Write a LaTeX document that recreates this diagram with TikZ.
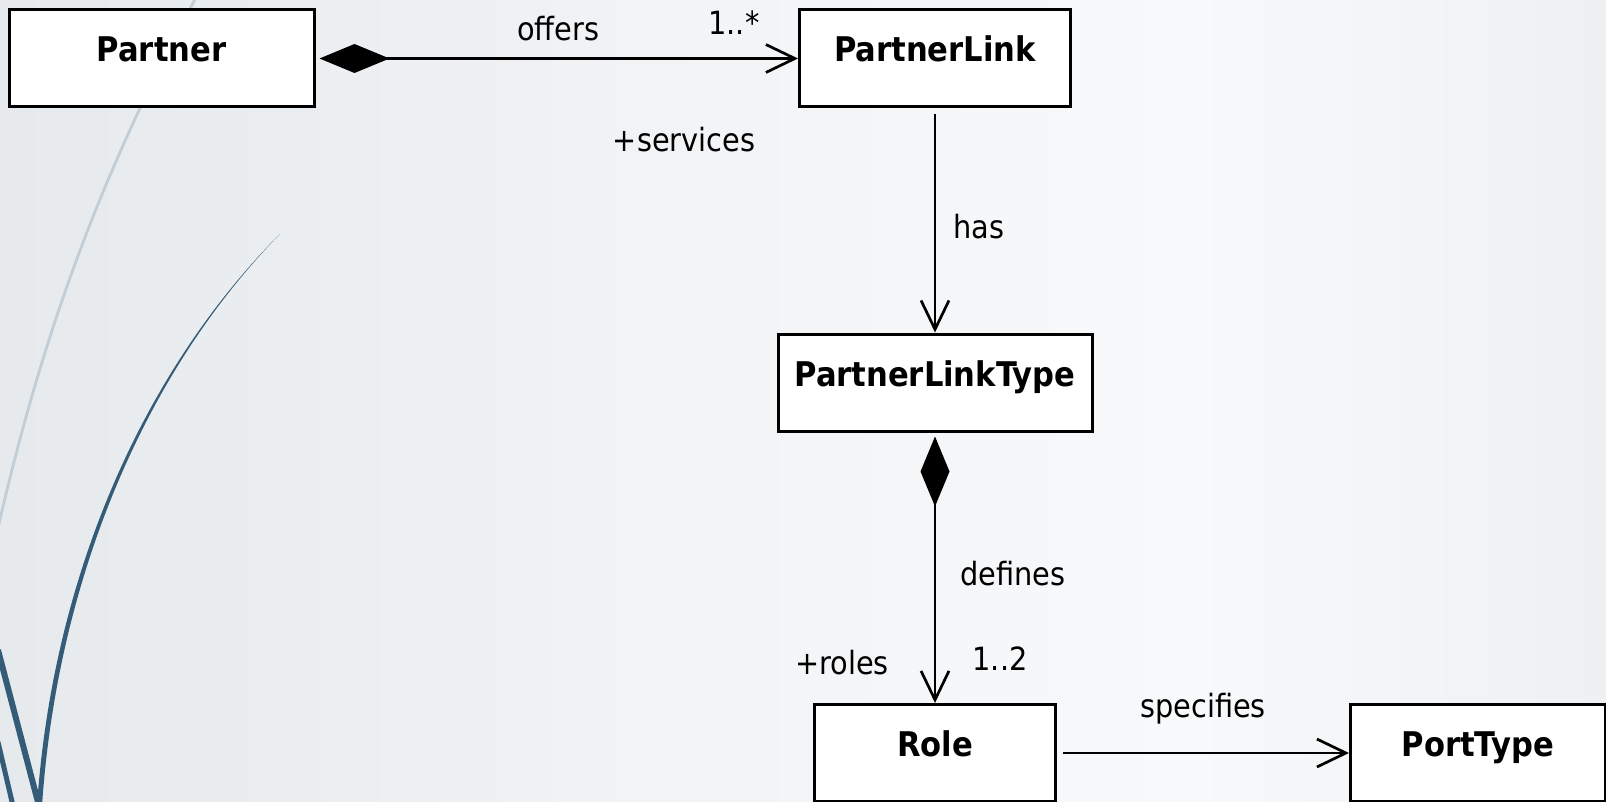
\documentclass[tikz,border=0pt]{standalone}
\usepackage{fontspec}
\newfontfamily\umlfont{DejaVu Sans Condensed}
\usetikzlibrary{arrows.meta}

\definecolor{bgA}{HTML}{E6EAED}
\definecolor{bgB}{HTML}{F1F3F5}
\definecolor{bgC}{HTML}{F8F9FA}
\definecolor{bgD}{HTML}{EEF0F2}
\definecolor{swoosh}{HTML}{345C78}
\definecolor{swooshlight}{HTML}{C2CDD5}

% background: 25bp = left edge, 75bp = right edge
\pgfdeclarehorizontalshading{slidebg}{100bp}{%
  color(0bp)=(bgA); color(25bp)=(bgA); color(45bp)=(bgB);
  color(62bp)=(bgC); color(75bp)=(bgD); color(100bp)=(bgD)}

\tikzset{
  classbox/.style={draw=black, fill=white, line width=1.5pt, inner sep=0pt,
    minimum height=48.5pt, text height=26pt, text depth=22.5pt,
    font=\umlfont\bfseries\fontsize{17}{20}\selectfont},
  lbl/.style={inner sep=0pt, anchor=base, font=\umlfont\fontsize{16}{19}\selectfont},
  assoc/.style={draw=black, line width=1.35pt},
  openhead/.style={-{Straight Barb[length=14.5pt,width=14pt,line width=1.35pt]}},
  comphead/.style={{Diamond[length=35pt,width=14.5pt]}-{Straight Barb[length=14.5pt,width=14pt,line width=1.35pt]}}
}

\begin{document}
\begin{tikzpicture}[x=0.5pt,y=-0.5pt]
  \useasboundingbox (0,0) rectangle (1606,802);
  \shade[shading=slidebg] (0,0) rectangle (1606,802);

  % decorative swooshes on the left
  \begin{scope}
    \clip (0,0) rectangle (1606,802);
    % faint outer arc
    \draw[swooshlight, line width=1.4pt]
      (199,-8) .. controls (100,174) and (42,336) .. (-2,528);
    % tapered dark arc
    \fill[swoosh]
      (280,234) .. controls (140,374) and (52,582) .. (37,806)
      -- (42,806) .. controls (57,582) and (143,374) .. (280,234) -- cycle;
    % two strokes meeting the arc at the bottom
    \draw[swoosh, line width=3pt] (-2,650) -- (39,806);
    \draw[swoosh, line width=2.5pt] (-2,742) -- (13,806);
  \end{scope}

  % classes
  \node[classbox, minimum width=152.5pt] (partner) at (161.5,58.5) {Partner};
  \node[classbox, minimum width=135.5pt] (plink)   at (935,58.5)   {PartnerLink};
  \node[classbox, minimum width=157pt]   (pltype)  at (935,382.5)  {PartnerLinkType};
  \node[classbox, minimum width=120.5pt] (role)    at (935,753)    {Role};
  \node[classbox, minimum width=127.5pt] (port)    at (1478,753)   {PortType};

  % associations
  \draw[assoc, comphead, shorten <=2pt] (partner) -- (plink);
  \draw[assoc, openhead, shorten <=3pt] (plink) -- (pltype);
  \draw[assoc, comphead, shorten <=2pt] (pltype.south) -- (pltype.south |- role.north);
  \draw[assoc, openhead, shorten <=3pt] (role) -- (port);

  % association labels and multiplicities
  \node[lbl] (offers)   at (558,41)   {offers};
  \node[lbl] (mult1)    at (734,35)   {1..*};
  \node[lbl] (services) at (684,152)  {+services};
  \node[lbl] (has)      at (979,239)  {has};
  \node[lbl] (defines)  at (1013,585) {defines};
  \node[lbl] (roles)    at (842,674)  {+roles};
  \node[lbl] (mult2)    at (1000,670) {1..2};
  \node[lbl] (specif)   at (1203,717) {specifies};
\end{tikzpicture}
\end{document}
